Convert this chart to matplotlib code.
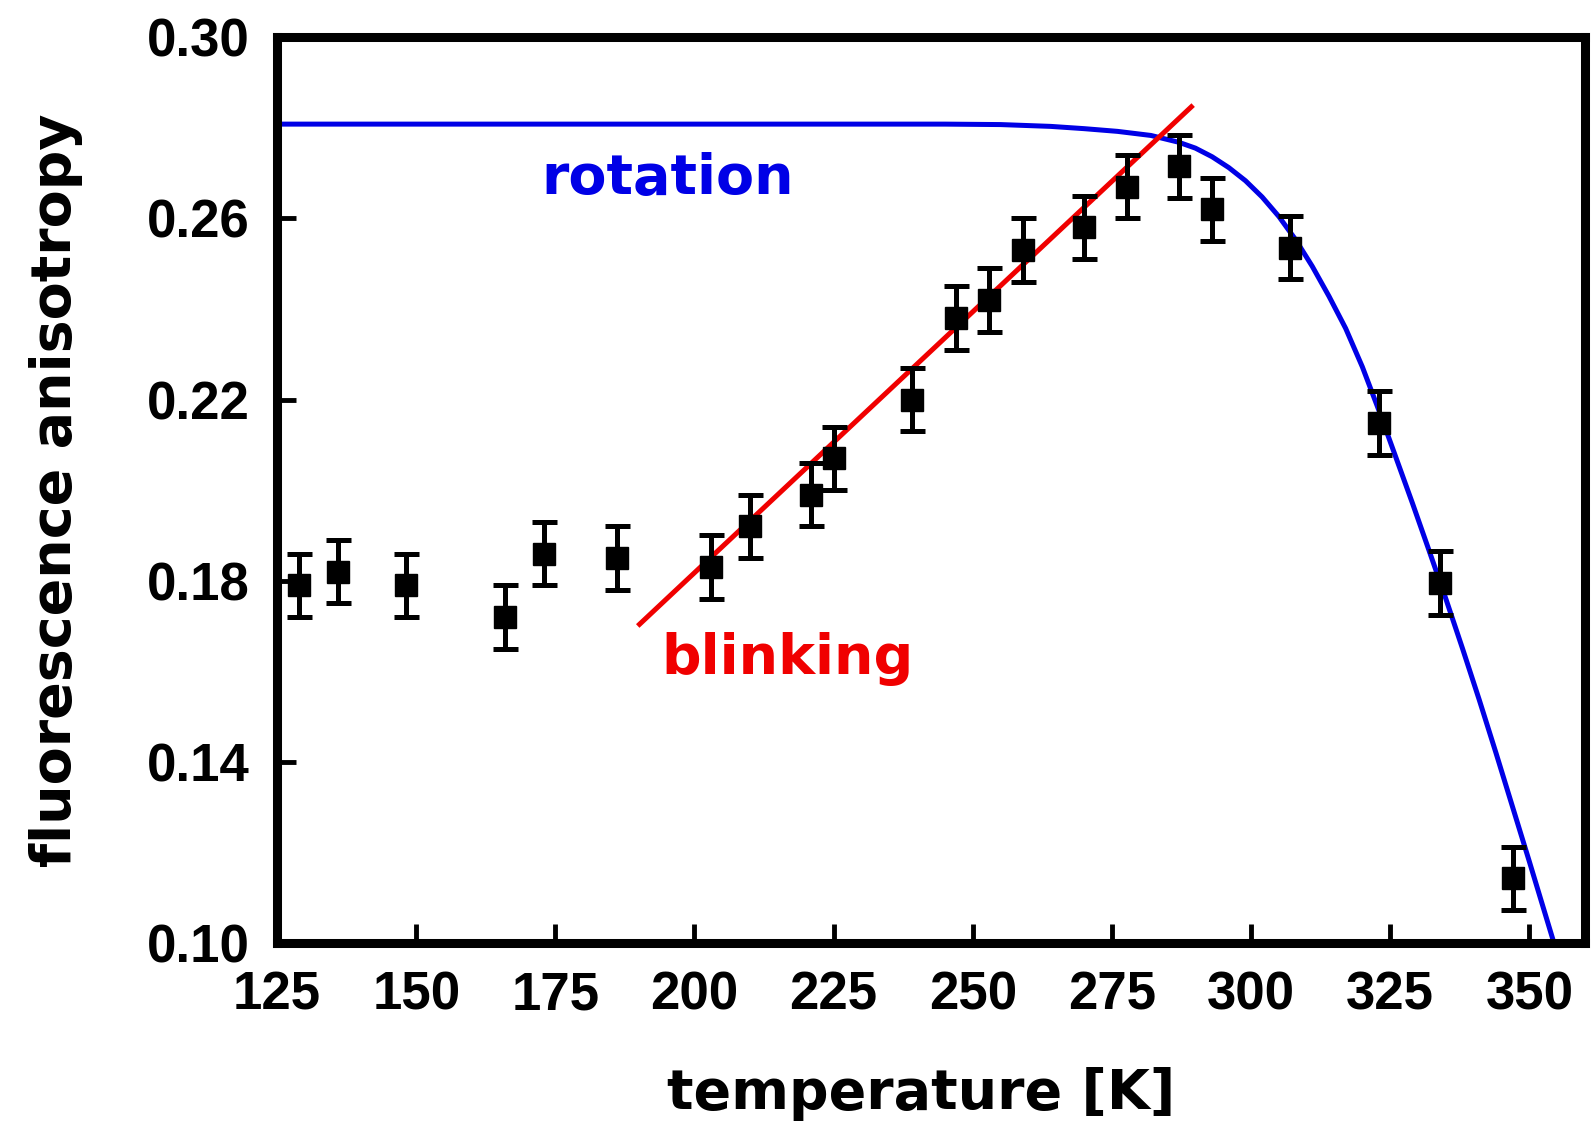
import matplotlib
matplotlib.use("Agg")
import matplotlib.pyplot as plt

# measured anisotropy vs temperature
temperature = [129.0, 136.0, 148.1, 166.0, 173.0, 186.0, 203.0, 210.0, 221.0, 225.0, 239.0,
               247.0, 253.0, 259.0, 270.0, 277.7, 287.0, 293.0, 307.0, 323.0, 334.0, 347.0]
anisotropy = [0.179, 0.182, 0.179, 0.172, 0.186, 0.185, 0.183, 0.192, 0.199, 0.207, 0.220,
              0.238, 0.242, 0.253, 0.258, 0.267, 0.2715, 0.262, 0.2535, 0.2148, 0.1795, 0.1143]
anisotropy_err = [0.007] * len(temperature)

# rotation model curve
rot_t = [125, 245, 255, 264, 270, 276, 282, 287, 290, 293, 296, 299, 302, 305, 308, 311,
         314, 317, 320, 323, 326, 329, 332, 335, 338, 341, 344, 347, 350, 353, 356]
rot_r = [0.2808, 0.2808, 0.2807, 0.2803, 0.2798, 0.2792, 0.2783, 0.2768, 0.2755, 0.2736,
         0.2712, 0.2683, 0.2647, 0.2604, 0.2553, 0.2494, 0.2428, 0.2357, 0.2272, 0.2175,
         0.2073, 0.1971, 0.1866, 0.1760, 0.1650, 0.1537, 0.1420, 0.1300, 0.1180, 0.1058,
         0.0936]

# blinking linear fit
blink_t = [189.8, 289.6]
blink_r = [0.170, 0.285]

plt.rcParams["font.family"] = "DejaVu Sans"
plt.rcParams["font.weight"] = "bold"

fig = plt.figure(figsize=(15.96, 11.26), dpi=100)
ax = fig.add_axes([0.1736, 0.1625, 0.8195, 0.8045])

ax.plot(rot_t, rot_r, color="#0000e6", linewidth=3.6, solid_capstyle="butt", zorder=2)
ax.plot(blink_t, blink_r, color="#f00000", linewidth=3.6, solid_capstyle="butt", zorder=2)
ax.errorbar(temperature, anisotropy, yerr=anisotropy_err, fmt="s", color="black",
            markersize=16, elinewidth=3.6, capsize=9, capthick=3.6, zorder=3)

ax.text(195.2, 0.2653, "rotation", color="#0000e6", fontsize=40, fontweight="bold",
        ha="center", va="baseline")
ax.text(216.8, 0.1594, "blinking", color="#f00000", fontsize=40, fontweight="bold",
        ha="center", va="baseline")

ax.set_xlim(125, 360)
ax.set_ylim(0.10, 0.30)
ax.set_xticks([125, 150, 175, 200, 225, 250, 275, 300, 325, 350])
ax.set_yticks([0.10, 0.14, 0.18, 0.22, 0.26, 0.30])
ax.set_yticklabels(["0.10", "0.14", "0.18", "0.22", "0.26", "0.30"])

for sp in ax.spines.values():
    sp.set_linewidth(6.5)
ax.tick_params(direction="in", length=14, width=3.5, top=False, right=False, pad=20)
for lab in ax.get_xticklabels() + ax.get_yticklabels():
    lab.set_fontfamily("Liberation Sans")
    lab.set_fontweight("bold")
    lab.set_fontsize(38)

fig.text(0.577, 0.028, "temperature [K]", fontsize=40, fontweight="bold",
         ha="center", va="center")
fig.text(0.035, 0.565, "fluorescence anisotropy", fontsize=40, fontweight="bold",
         ha="center", va="center", rotation=90)

fig.savefig("out.png", dpi=100)
